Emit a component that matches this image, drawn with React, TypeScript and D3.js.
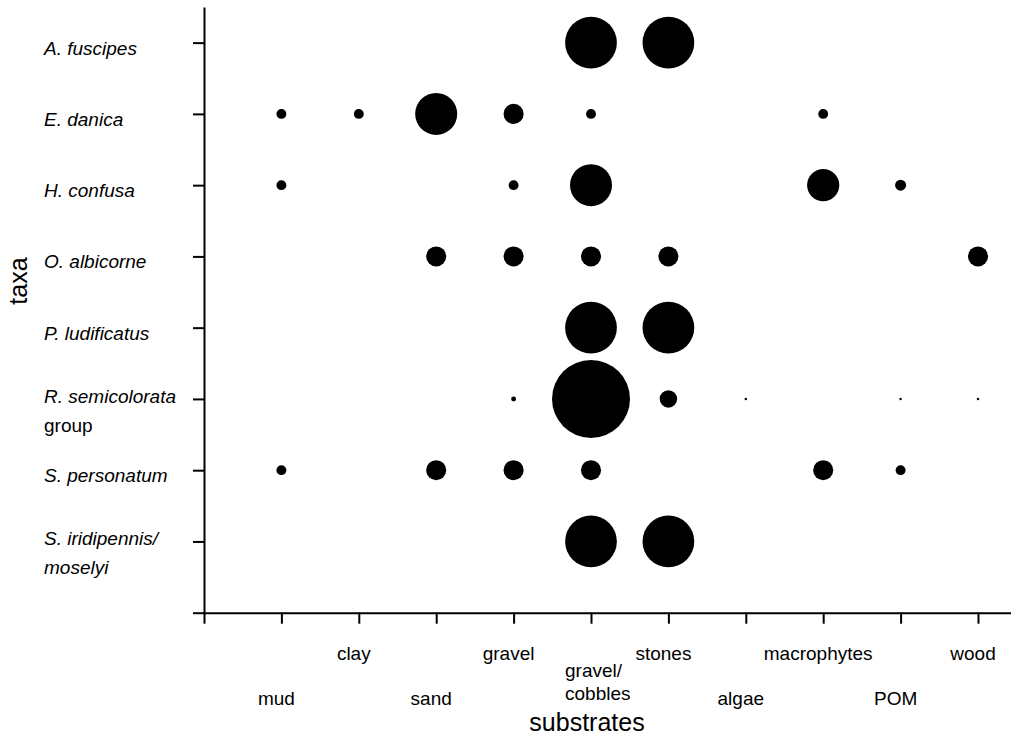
import { useEffect, useRef } from "react";
import * as d3 from "d3";

const substrates = [
  "mud",
  "clay",
  "sand",
  "gravel",
  "gravel/\ncobbles",
  "stones",
  "algae",
  "macrophytes",
  "POM",
  "wood",
];

const taxa = [
  "A. fuscipes",
  "E. danica",
  "H. confusa",
  "O. albicorne",
  "P. ludificatus",
  "R. semicolorata\ngroup",
  "S. personatum",
  "S. iridipennis/\nmoselyi",
];

// abundance per substrate (same order as substrates), one array per taxon
const aFuscipes = [0, 0, 0, 0, 44, 44, 0, 0, 0, 0];
const eDanica = [1.6, 1.6, 29, 6.6, 1.6, 0, 0, 1.6, 0, 0];
const hConfusa = [1.6, 0, 0, 1.6, 29, 0, 0, 17, 2, 0];
const oAlbicorne = [0, 0, 6.6, 6.6, 6.6, 6.6, 0, 0, 0, 6.6];
const pLudificatus = [0, 0, 0, 0, 44, 44, 0, 0, 0, 0];
const rSemicolorata = [0, 0, 0, 0.4, 100, 5, 0.1, 0, 0.1, 0.1];
const sPersonatum = [1.6, 0, 6.6, 6.6, 6.6, 0, 0, 6.6, 1.6, 0];
const sIridipennis = [0, 0, 0, 0, 44, 44, 0, 0, 0, 0];

const values = [
  aFuscipes,
  eDanica,
  hConfusa,
  oAlbicorne,
  pLudificatus,
  rSemicolorata,
  sPersonatum,
  sIridipennis,
];

const W = 1011;
const H = 738;
const FONT = "'Liberation Sans', Arial, sans-serif";

export default function App() {
  const svgRef = useRef<SVGSVGElement>(null);

  useEffect(() => {
    const svg = d3.select(svgRef.current);
    svg.selectAll("*").remove();

    const x = d3.scaleLinear().domain([0, 10.5]).range([204, 1016.7]);
    const y = d3.scaleLinear().domain([0, 8.5]).range([612.7, 7]);
    const r = d3.scaleSqrt().domain([0, 100]).range([0, 39]);

    // taxon i sits at y = 8 - i (top to bottom)
    const rowY = (i: number) => y(taxa.length - i);

    const styleAxis = (g: d3.Selection<SVGGElement, unknown, null, undefined>) => {
      g.select(".domain").attr("stroke", "#000").attr("stroke-width", 2);
      g.selectAll(".tick line").attr("stroke", "#000").attr("stroke-width", 2);
      g.selectAll(".tick text").remove();
    };

    svg
      .append("g")
      .attr("transform", `translate(0,${y(0)})`)
      .call(
        d3
          .axisBottom(x)
          .tickValues(d3.range(0, 11))
          .tickSize(11)
          .tickSizeOuter(0),
      )
      .call(styleAxis);

    svg
      .append("g")
      .attr("transform", `translate(${x(0)},0)`)
      .call(
        d3
          .axisLeft(y)
          .tickValues(d3.range(0, 9))
          .tickSize(11)
          .tickSizeOuter(0),
      )
      .call(styleAxis);

    // bubbles
    const cells: { row: number; col: number; v: number }[] = [];
    values.forEach((row, i) =>
      row.forEach((v, j) => {
        if (v > 0) cells.push({ row: i, col: j, v });
      }),
    );
    svg
      .append("g")
      .selectAll("circle")
      .data(cells)
      .join("circle")
      .attr("cx", (d) => x(d.col + 1))
      .attr("cy", (d) => rowY(d.row))
      .attr("r", (d) => r(d.v))
      .attr("fill", "#000");

    // substrate labels, staggered in two rows
    const xl = svg
      .append("g")
      .attr("font-family", FONT)
      .attr("font-size", 19)
      .attr("fill", "#000");
    substrates.forEach((s, j) => {
      const lines = s.split("\n");
      const cx = x(j + 1);
      const t = xl.append("text");
      if (lines.length > 1) {
        t.attr("text-anchor", "start");
        lines.forEach((ln, k) =>
          t
            .append("tspan")
            .attr("x", cx - 26)
            .attr("y", y(0) + 64 + k * 23)
            .text(ln),
        );
      } else {
        t.attr("text-anchor", "middle")
          .attr("x", cx - 5)
          .attr("y", y(0) + (j % 2 === 1 ? 47 : 92))
          .text(s);
      }
    });

    // taxa labels
    const yl = svg
      .append("g")
      .attr("font-family", FONT)
      .attr("font-size", 19)
      .attr("fill", "#000");
    taxa.forEach((name, i) => {
      const lines = name.split("\n");
      const cy = rowY(i);
      const t = yl.append("text");
      lines.forEach((ln, k) => {
        const base = lines.length > 1 ? cy + 4 : cy + 12;
        t.append("tspan")
          .attr("x", 44)
          .attr("y", base + k * 29)
          .attr("font-style", ln === "group" ? "normal" : "italic")
          .text(ln);
      });
    });

    svg
      .append("text")
      .attr("x", 587)
      .attr("y", 731)
      .attr("text-anchor", "middle")
      .attr("font-family", FONT)
      .attr("font-size", 25)
      .text("substrates");

    svg
      .append("text")
      .attr("transform", `translate(27,${281}) rotate(-90)`)
      .attr("text-anchor", "middle")
      .attr("font-family", FONT)
      .attr("font-size", 25)
      .text("taxa");
  }, []);

  return (
    <svg
      ref={svgRef}
      width={W}
      height={H}
      style={{ position: "absolute", left: 0, top: 0, background: "#fff" }}
    />
  );
}
